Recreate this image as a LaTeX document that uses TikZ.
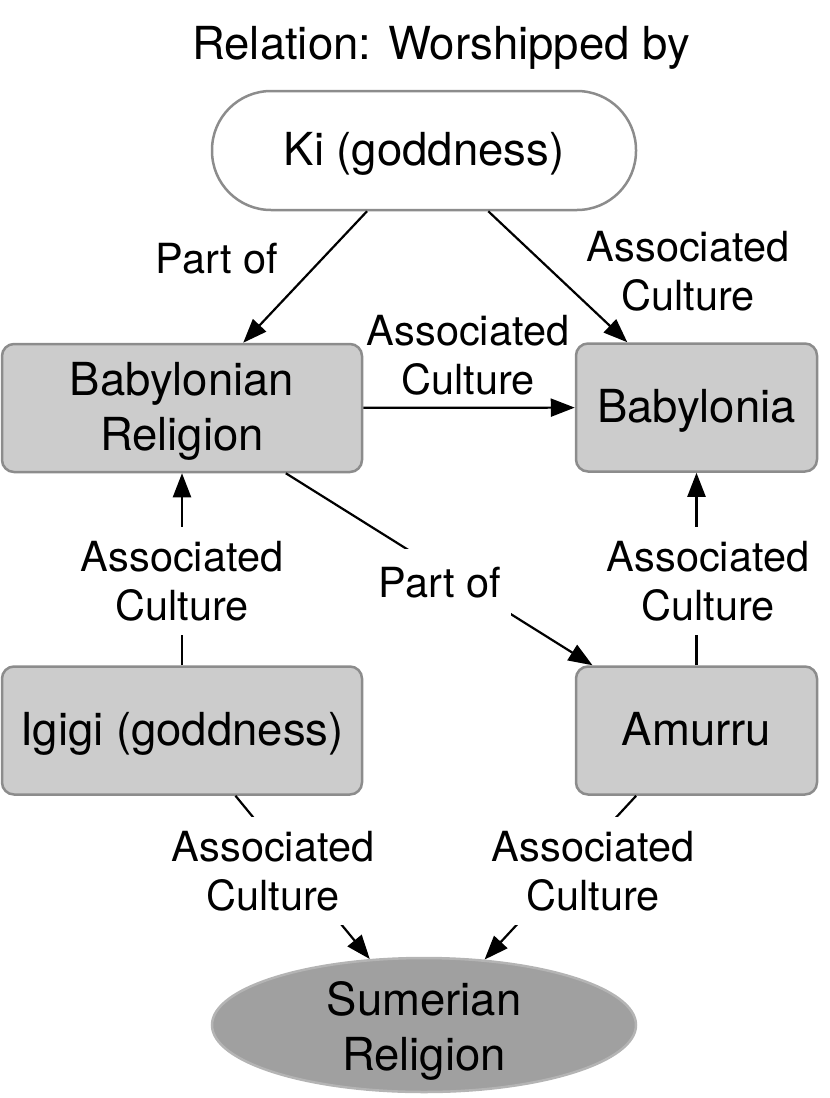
\documentclass[tikz,border=0pt]{standalone}
\usepackage{fontspec}
\setmainfont{TeX Gyre Heros}
\usetikzlibrary{shapes.geometric,arrows.meta}
\definecolor{boxfill}{HTML}{CCCCCC}
\definecolor{boxline}{HTML}{8C8C8C}
\definecolor{sumfill}{HTML}{A0A0A0}
\definecolor{sumline}{HTML}{B4B4B4}
\tikzset{
  nodefont/.style={font=\fontsize{45.5}{55}\selectfont},
  lblfont/.style={font=\fontsize{41.5}{48.5}\selectfont},
  oneline/.style={text height=30pt, text depth=0pt},
  twoline/.style={text height=84pt, text depth=0pt},
  graybox/.style={nodefont, draw=boxline, line width=2.5pt, fill=boxfill, rounded corners=12pt,
    minimum width=360pt, minimum height=128pt, inner sep=0pt, align=center},
  smallbox/.style={graybox, minimum width=241pt},
  pill/.style={nodefont, draw=boxline, line width=2.5pt, fill=white, rounded corners=59pt,
    minimum width=424pt, minimum height=119pt, inner sep=0pt, align=center},
  oval/.style={nodefont, ellipse, draw=sumline, line width=2.5pt, fill=sumfill,
    minimum width=424pt, minimum height=134pt, inner sep=0pt, align=center},
  lbl/.style={lblfont, align=center, inner sep=0pt},
  lblw/.style={lbl, fill=white},
  edge/.style={line width=2.2pt, -{Triangle[length=24pt,width=18pt]}},
}
\begin{document}
\begin{tikzpicture}[x=1pt,y=-1pt]
\useasboundingbox (0,0) rectangle (830,1098);
\node[nodefont] (title) at (441,48) {Relation: Worshipped by};
\node[pill, oneline] (ki) at (424,150.5) {Ki (goddness)};
\node[graybox, twoline] (br) at (182,408) {Babylonian\\Religion};
\node[smallbox, oneline] (bab) at (696.5,407.5) {Babylonia};
\node[graybox, oneline] (ig) at (182,730.5) {Igigi (goddness)};
\node[smallbox, oneline] (am) at (696.5,730.5) {Amurru};
\node[oval, twoline, text height=90pt] (sum) at (424,1025) {Sumerian\\Religion};

\draw[edge] (ki) -- (br);
\draw[edge] (ki) -- (bab);
\draw[edge] (br) -- (bab);
\draw[edge] (br) -- (am);
\draw[edge] (ig) -- (br);
\draw[edge] (am) -- (bab);
\draw[edge] (ig) -- (sum);
\draw[edge] (am) -- (sum);

\node[lbl] (l1) at (217,259) {Part of};
\node[lbl] (l2) at (688,271) {Associated\\Culture};
\node[lbl] (l3) at (468,355) {Associated\\Culture};
\node[lblw, inner xsep=8pt, inner ysep=14pt] (l4) at (182,581) {Associated\\Culture};
\node[lblw, inner xsep=10pt, inner ysep=19pt] (l5) at (440,583) {Part of};
\node[lblw, inner xsep=8pt, inner ysep=14pt] (l6) at (708,581) {Associated\\Culture};
\node[lblw, inner xsep=8pt, inner ysep=14pt] (l7) at (273,871) {Associated\\Culture};
\node[lblw, inner xsep=8pt, inner ysep=14pt] (l8) at (593,871) {Associated\\Culture};
\end{tikzpicture}
\end{document}
